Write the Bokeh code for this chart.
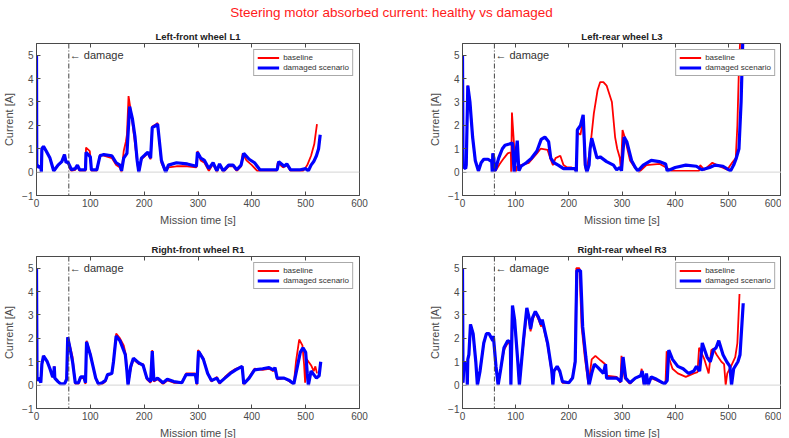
from bokeh.plotting import figure
from bokeh.models import (Span, Label, LinearAxis, Legend, LegendItem,
                          ColumnDataSource, FixedTicker, Div)
from bokeh.layouts import column, row
from bokeh.embed import file_html
from bokeh.resources import INLINE

# ---------------- data (time [s], current [A]) ----------------
X_TICKS = [0, 100, 200, 300, 400, 500, 600]
Y_TICKS = [-1, 0, 1, 2, 3, 4, 5]
DAMAGE_T = 60

L1_baseline = [(0,5),(0.5,0.2),(1.5,0.3),(4,0.2),(8,0.25),(9,0),(10,1.0),(13,1.1),(18,0.9),(25,0.6),
    (32,0.05),(40,0.3),(47,0.45),(52,0.75),(55,0.4),(58,0.45),(62,0.15),(65,0.05),(72,0.1),(76,0.25),
    (80,0.05),(91,0.05),(92,1.05),(99,0.9),(102,0.05),(112,0.05),(118,0.75),(125,0.7),(140,0.6),
    (148,0.3),(155,0.2),(158,0.0),(162,0.9),(166,1.3),(168,1.6),(171,3.25),(176,2.5),(182,1.4),
    (187,0.4),(190,0.0),(195,0.55),(202,0.7),(207,0.8),(212,0.55),(215,1.95),(222,2.05),(225,2.1),
    (232,0.4),(240,0.0),(245,0.2),(260,0.25),(280,0.25),(297,0.2),(299,0.9),(305,0.5),(312,0.4),
    (320,0.05),(328,0.35),(335,0.0),(340,0.3),(347,0.0),(357,0.25),(365,0.25),(372,0.05),(380,0.25),
    (383,0.8),(390,0.5),(400,0.3),(410,0.05),(446,0.05),(448,0.4),(458,0.2),(465,0.3),(472,0.05),
    (495,0.05),(500,0.2),(503,0.3),(510,0.7),(516,1.2),(521,2.05)]
L1_damaged = [(0,5),(0.5,0.2),(1.5,0.3),(4,0.2),(8,0.25),(9,0.0),(10,1.0),(13,1.1),(18,0.9),(25,0.6),
    (32,0.05),(40,0.3),(47,0.45),(52,0.75),(55,0.4),(58,0.45),(62,0.25),(65,0.1),(72,0.15),(76,0.3),
    (80,0.1),(91,0.1),(92,0.85),(100,0.65),(102,0.1),(112,0.1),(118,0.7),(125,0.75),(140,0.7),
    (148,0.4),(155,0.3),(158,0.05),(162,0.6),(168,0.8),(173,2.8),(178,2.3),(183,1.5),(187,0.5),
    (190,0.0),(195,0.6),(202,0.75),(207,0.85),(212,0.6),(215,1.9),(222,2.0),(225,2.05),(232,0.5),
    (240,0.0),(245,0.3),(260,0.4),(280,0.35),(297,0.25),(299,0.85),(305,0.6),(312,0.5),(320,0.15),
    (328,0.4),(335,0.05),(340,0.35),(347,0.05),(357,0.3),(365,0.3),(372,0.1),(380,0.3),(385,0.8),
    (395,0.55),(405,0.4),(415,0.1),(447,0.1),(450,0.45),(460,0.25),(465,0.35),(472,0.1),(490,0.1),
    (500,0.15),(505,0.05),(510,0.3),(515,0.45),(520,0.7),(524,1.0),(527,1.6)]

L3_baseline = [(0,5),(1,0.3),(3,0.2),(6,0.15),(7,0.3),(10,3.7),(14,3.0),(19,1.5),(24,0.5),(30,0.05),
    (35,0.4),(40,0.55),(48,0.55),(55,0.45),(56,0.0),(57,0.8),(59,0.6),(60,0.05),(62,0.05),(70,0.35),
    (78,0.6),(85,0.8),(91,0.85),(91.5,0.0),(93,2.55),(96,1.5),(100,0.0),(103,0.25),(110,0.3),
    (125,0.4),(140,0.8),(147,1.0),(160,0.95),(165,0.6),(170,0.3),(175,0.6),(184,0.7),(190,0.3),
    (197,0.2),(205,0.2),(215,0.05),(216,1.7),(222,1.6),(227,2.3),(230,0.3),(233,0.0),(240,1.0),
    (247,2.5),(254,3.5),(259,3.85),(265,3.85),(271,3.7),(281,3.0),(287,1.5),(291,1.0),(296,0.6),
    (298,0.05),(301,1.8),(305,1.5),(315,0.5),(324,0.2),(332,0.0),(346,0.3),(371,0.35),(383,0.2),
    (393,0.05),(445,0.05),(447,0.3),(455,0.1),(470,0.4),(483,0.25),(498,0.1),(507,0.4),(514,0.6),
    (517,2.0),(520,4.5),(522,5.5)]
L3_damaged = [(0,5),(1,0.3),(3,0.2),(6,0.15),(7,0.3),(10,3.7),(14,3.0),(19,1.5),(24,0.5),(30,0.05),
    (35,0.4),(40,0.55),(48,0.55),(55,0.45),(56,0.0),(57,0.8),(59,0.6),(60,0.05),(62,0.1),(68,0.6),
    (75,1.0),(80,1.15),(88,1.2),(94,1.25),(97,0.0),(103,1.35),(106,0.05),(110,0.25),(120,0.4),
    (130,0.6),(140,0.9),(148,1.4),(155,1.5),(162,1.3),(166,0.6),(172,0.4),(180,0.3),(190,0.15),
    (212,0.15),(214,0.0),(216,1.8),(222,2.0),(227,2.45),(231,0.3),(234,0.0),(238,0.3),(240,1.0),
    (243,1.45),(253,0.6),(259,0.65),(271,0.45),(284,0.3),(290,0.1),(296,0.2),(299,0.05),(304,1.5),
    (309,1.3),(318,0.5),(325,0.2),(330,0.05),(340,0.3),(355,0.5),(370,0.45),(382,0.35),(385,0.05),
    (400,0.2),(420,0.3),(440,0.25),(450,0.1),(465,0.2),(475,0.3),(490,0.25),(504,0.05),(510,0.3),
    (515,0.6),(520,1.0),(524,3.0),(527,5.5)]

R1_baseline = [(0,5),(1,0.2),(5,0.3),(8,0.1),(10,0.9),(13,1.25),(20,1.0),(25,0.7),(30,0.35),(32,0.4),
    (33,0.8),(34,0.3),(40,0.15),(45,0.05),(52,0.05),(56,0.25),(58,2.05),(62,1.7),(67,1.2),(72,0.05),
    (78,0.05),(82,0.3),(88,0.3),(91,0.05),(93,1.9),(100,1.35),(105,0.8),(110,0.3),(115,0.0),
    (122,0.05),(125,0.1),(128,0.15),(132,0.4),(140,0.5),(143,1.0),(148,2.2),(155,2.0),(162,1.7),
    (166,1.3),(168,0.6),(170,0.0),(175,0.7),(180,1.1),(190,0.9),(198,0.9),(205,0.25),(212,0.1),
    (215,1.5),(218,0.15),(225,0.25),(235,0.05),(243,0.2),(255,0.1),(270,0.1),(278,0.5),(295,0.5),
    (298,0.0),(300,1.5),(310,1.15),(318,0.5),(325,0.15),(335,0.35),(340,0.05),(350,0.35),(360,0.55),
    (370,0.7),(382,0.8),(385,0.0),(395,0.35),(405,0.7),(420,0.65),(432,0.7),(440,0.6),(443,0.7),
    (447,0.25),(460,0.3),(470,0.15),(478,0.05),(482,1.0),(488,1.95),(494,1.7),(497,0.9),(499,0.1),
    (502,1.1),(510,0.85),(515,0.6),(518,0.8),(521,0.5)]
R1_damaged = [(0,5),(1,0.2),(5,0.3),(8,0.1),(10,0.9),(13,1.25),(20,1.0),(25,0.7),(30,0.35),(32,0.4),
    (33,0.8),(34,0.3),(40,0.15),(45,0.05),(52,0.05),(56,0.25),(58,2.05),(62,1.6),(67,1.0),(72,0.1),
    (78,0.1),(82,0.35),(88,0.35),(91,0.1),(93,1.85),(100,1.3),(105,0.8),(110,0.3),(115,0.05),
    (122,0.1),(125,0.15),(128,0.2),(132,0.45),(140,0.5),(143,1.0),(148,2.1),(155,1.9),(160,1.6),
    (165,1.3),(168,0.6),(170,0.0),(175,0.8),(180,1.15),(190,0.95),(198,0.85),(205,0.3),(212,0.15),
    (215,1.45),(218,0.2),(225,0.3),(235,0.1),(243,0.25),(255,0.15),(270,0.1),(278,0.45),(295,0.45),
    (298,0.05),(301,1.45),(310,1.1),(318,0.5),(325,0.2),(335,0.3),(340,0.1),(350,0.3),(360,0.5),
    (370,0.65),(382,0.8),(385,0.05),(395,0.3),(405,0.65),(420,0.7),(432,0.75),(440,0.65),(443,0.75),
    (447,0.3),(460,0.3),(470,0.2),(478,0.05),(482,0.5),(490,1.4),(495,1.6),(500,1.4),(503,0.5),
    (505,0.0),(510,0.6),(520,0.3),(525,0.4),(528,1.0)]

R3_baseline = [(0,5),(1,0.1),(3,1.0),(6,0.8),(8,0.85),(9,0.0),(10,1.1),(12,1.3),(15,2.6),(20,2.2),
    (25,1.0),(28,0.0),(33,0.6),(40,1.8),(45,2.2),(50,2.2),(57,1.9),(58,2.1),(63,0.8),(67,0.0),
    (72,0.7),(78,1.5),(85,1.8),(90,1.75),(91,0.0),(93,3.3),(98,2.7),(104,1.0),(107,0.0),(111,1.0),
    (116,2.0),(121,3.1),(125,2.8),(128,2.3),(132,2.8),(137,3.1),(143,2.8),(148,2.5),(150,2.7),
    (155,2.2),(160,1.7),(168,0.5),(170,0.0),(172,0.6),(178,0.75),(183,0.55),(188,0.1),(200,0.1),
    (207,0.35),(212,1.1),(214,5.0),(220,5.0),(224,2.5),(230,1.2),(237,0.0),(243,1.1),(250,1.25),
    (260,1.05),(268,0.9),(270,0.4),(290,0.35),(297,0.1),(299,1.25),(305,0.3),(315,0.05),(325,0.3),
    (335,0.4),(337,0.7),(341,0.0),(345,0.4),(348,0.0),(355,0.3),(365,0.2),(380,0.05),(382,0.2),
    (384,1.45),(395,0.7),(405,0.5),(420,0.35),(435,0.5),(442,0.55),(445,1.6),(455,1.1),(463,0.5),
    (468,1.5),(472,1.55),(478,1.3),(487,1.0),(492,0.9),(495,0.0),(498,0.5),(505,0.8),(513,1.2),
    (517,1.8),(521,3.9)]
R3_damaged = [(0,5),(1,0.1),(3,1.0),(6,0.8),(8,0.85),(9,0.0),(10,1.1),(12,1.3),(15,2.6),(20,2.2),
    (25,1.0),(28,0.0),(33,0.6),(40,1.8),(45,2.2),(50,2.2),(57,1.9),(58,2.1),(63,0.8),(67,0.0),
    (72,0.7),(78,1.6),(85,1.9),(90,1.85),(91,0.0),(94,3.4),(98,2.8),(104,1.0),(107,0.0),(111,1.0),
    (115,2.0),(121,3.3),(125,2.9),(128,2.4),(132,2.9),(137,3.15),(143,2.9),(148,2.6),(150,2.8),
    (155,2.3),(160,1.8),(168,0.6),(170,0.0),(172,0.6),(178,0.8),(183,0.6),(188,0.15),(200,0.1),
    (207,0.3),(212,1.0),(215,4.9),(222,4.9),(226,2.5),(232,1.2),(238,0.0),(243,0.5),(248,0.9),
    (255,0.75),(265,0.5),(269,0.9),(271,0.3),(290,0.3),(298,0.15),(302,1.2),(307,0.3),(315,0.1),
    (325,0.3),(335,0.4),(338,0.6),(342,0.0),(346,0.5),(349,0.0),(355,0.35),(365,0.25),(380,0.05),
    (385,0.2),(388,1.5),(395,1.1),(405,0.8),(415,0.7),(425,0.5),(435,0.6),(440,0.8),(446,0.6),
    (451,1.8),(460,1.2),(466,1.0),(472,1.5),(477,1.6),(482,1.9),(490,1.3),(497,1.0),(503,0.8),
    (506,0.0),(510,0.7),(518,1.0),(522,1.3),(528,3.5)]

PANELS = [
    ("Left-front wheel L1", L1_baseline, L1_damaged),
    ("Left-rear wheel L3", L3_baseline, L3_damaged),
    ("Right-front wheel R1", R1_baseline, R1_damaged),
    ("Right-rear wheel R3", R3_baseline, R3_damaged),
]

# ---------------- styling ----------------
FONT = "Liberation Sans"
AX = "#4a4a4a"
RED = "#ff0000"
BLUE = "#0000ff"


def src(pairs):
    return ColumnDataSource(dict(t=[a for a, _ in pairs], i=[b for _, b in pairs]))


def style_axis(ax, labels=True):
    ax.major_tick_in = 4
    ax.major_tick_out = 0
    ax.minor_tick_line_color = None
    ax.axis_line_color = AX
    ax.major_tick_line_color = AX
    ax.axis_label_text_font = FONT
    ax.axis_label_text_font_size = "11px"
    ax.axis_label_text_font_style = "normal"
    ax.axis_label_text_color = AX
    ax.axis_label_standoff = 4
    ax.major_label_text_font = FONT
    if labels:
        ax.major_label_text_color = AX
        ax.major_label_text_font_size = "10px"
        ax.major_label_standoff = 3
    else:
        ax.major_label_text_color = None
        ax.major_label_text_font_size = "1px"
        ax.major_label_standoff = 0
        ax.axis_line_color = None


def make_panel(title, base, dmg, ml, mr, mt, mb, fw, fh):
    p = figure(frame_width=fw, frame_height=fh, x_range=(0, 600), y_range=(-1, 5.5),
               output_backend="svg", toolbar_location=None,
               min_border_left=ml, min_border_right=mr,
               min_border_top=mt, min_border_bottom=mb,
               x_axis_label="Mission time [s]", y_axis_label="Current [A]")
    p.title.text = title
    p.title.align = "center"
    p.title.text_font = FONT
    p.title.text_font_size = "9.5px"
    p.title.text_font_style = "bold"
    p.title.text_color = "#222222"
    p.title.standoff = 4
    p.grid.visible = False
    p.outline_line_color = AX
    p.background_fill_color = "white"
    p.border_fill_color = "white"

    p.xaxis.ticker = FixedTicker(ticks=X_TICKS)
    p.yaxis.ticker = FixedTicker(ticks=Y_TICKS)
    for ax in p.xaxis + p.yaxis:
        style_axis(ax)

    top = LinearAxis(ticker=FixedTicker(ticks=X_TICKS))
    style_axis(top, labels=False)
    p.add_layout(top, "above")

    p.add_layout(Span(location=0, dimension="width", line_color="#d4d4d4", line_width=1))
    p.add_layout(Span(location=DAMAGE_T, dimension="height", line_color="#444444",
                      line_width=1, line_dash="5 2 1 2"))
    p.add_layout(Label(x=DAMAGE_T, y=5, x_offset=1, text="\u2190 damage", text_baseline="middle",
                       text_font=FONT, text_font_size="11px", text_color="#333333"))

    r1 = p.line("t", "i", source=src(base), line_color=RED, line_width=1.8)
    r2 = p.line("t", "i", source=src(dmg), line_color=BLUE, line_width=3.2)

    leg = Legend(items=[LegendItem(label="baseline", renderers=[r1]),
                        LegendItem(label="damaged scenario", renderers=[r2])],
                 location="top_right", label_text_font=FONT, label_text_font_size="8px",
                 label_text_color="#333333", glyph_width=22, glyph_height=9, label_height=9,
                 padding=3, spacing=1, margin=6, border_line_color="#555555",
                 background_fill_alpha=1.0, label_standoff=4)
    p.add_layout(leg, "center")
    return p


title = Div(text="Steering motor absorbed current: healthy vs damaged", width=773, height=16,
            styles={"color": "#ff1a1a", "font-family": FONT, "font-size": "13.5px",
                    "text-align": "center", "width": "773px", "line-height": "16px"})

f1 = make_panel(*PANELS[0], ml=27, mr=50, mt=12, mb=26, fw=323, fh=152)
f2 = make_panel(*PANELS[1], ml=53, mr=0, mt=12, mb=26, fw=319, fh=152)
f3 = make_panel(*PANELS[2], ml=27, mr=50, mt=28, mb=26, fw=323, fh=152)
f4 = make_panel(*PANELS[3], ml=53, mr=0, mt=28, mb=26, fw=319, fh=152)

layout = column(title, row(f1, f2), row(f3, f4))
open("out.html", "w").write(file_html(layout, INLINE))
